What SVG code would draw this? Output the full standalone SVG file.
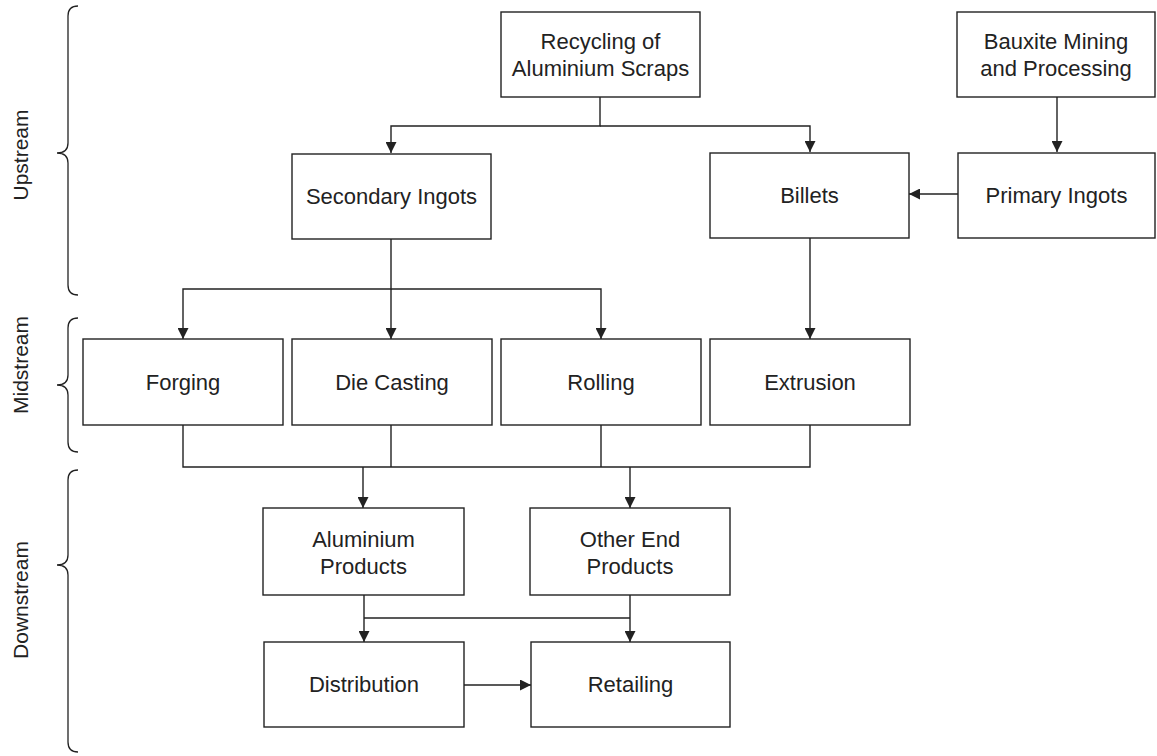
<svg xmlns="http://www.w3.org/2000/svg" width="1157" height="756" viewBox="0 0 1157 756">
<style>
.box{fill:#fff;stroke:#222;stroke-width:1.4}
.t{font-family:"Liberation Sans",Arial,sans-serif;font-size:22px;fill:#222;text-anchor:middle;dominant-baseline:central}
.s{font-size:21px}
.c{fill:none;stroke:#222;stroke-width:1.4}
.br{fill:none;stroke:#222;stroke-width:1.3}
</style>
<defs>
<marker id="ah" markerWidth="11" markerHeight="11" refX="11" refY="5.5" orient="auto" markerUnits="userSpaceOnUse">
<path d="M0,0 L11,5.5 L0,11 z" fill="#222"/>
</marker>
</defs>
<rect width="1157" height="756" fill="#fff"/>
<g id="labels">
<path class="br" d="M78,6 Q68,6 68,16 L68,143 Q68,153 57,153 Q68,153 68,163 L68,285 Q68,295 78,295"/>
<text class="t s" transform="translate(20,155) rotate(-90)">Upstream</text>
<path class="br" d="M78,318 Q68,318 68,328 L68,375 Q68,385 57,385 Q68,385 68,395 L68,442 Q68,452 78,452"/>
<text class="t s" transform="translate(20,365) rotate(-90)">Midstream</text>
<path class="br" d="M78,470 Q68,470 68,480 L68,555 Q68,565 57,565 Q68,565 68,575 L68,742 Q68,752 78,752"/>
<text class="t s" transform="translate(20,600) rotate(-90)">Downstream</text>
</g>
<g id="connectors">
<path class="c" d="M600,97 V126 H391 V153" marker-end="url(#ah)"/>
<path class="c" d="M600,126 H810 V152" marker-end="url(#ah)"/>
<path class="c" d="M1057,97 V152" marker-end="url(#ah)"/>
<path class="c" d="M958,194 H909" marker-end="url(#ah)"/>
<path class="c" d="M391,239 V289 H183 V339" marker-end="url(#ah)"/>
<path class="c" d="M391,289 V339" marker-end="url(#ah)"/>
<path class="c" d="M391,289 H601 V339" marker-end="url(#ah)"/>
<path class="c" d="M810,238 V339" marker-end="url(#ah)"/>
<path class="c" d="M183,425 V467 H810 V425"/>
<path class="c" d="M391,425 V467"/>
<path class="c" d="M601,425 V467"/>
<path class="c" d="M363,467 V508" marker-end="url(#ah)"/>
<path class="c" d="M630,467 V508" marker-end="url(#ah)"/>
<path class="c" d="M364,595 V642" marker-end="url(#ah)"/>
<path class="c" d="M364,618 H630"/>
<path class="c" d="M630,595 V642" marker-end="url(#ah)"/>
<path class="c" d="M464,685 H531" marker-end="url(#ah)"/>
</g>
<g id="recycling"><rect class="box" x="501" y="12" width="199" height="85"/><text class="t" x="600.5" y="41">Recycling of</text><text class="t" x="600.5" y="68">Aluminium Scraps</text></g>
<g id="bauxite"><rect class="box" x="957" y="12" width="198" height="85"/><text class="t" x="1056" y="41">Bauxite Mining</text><text class="t" x="1056" y="68">and Processing</text></g>
<g id="secondary"><rect class="box" x="292" y="154" width="199" height="85"/><text class="t" x="391.5" y="196">Secondary Ingots</text></g>
<g id="billets"><rect class="box" x="710" y="153" width="199" height="85"/><text class="t" x="809.5" y="195">Billets</text></g>
<g id="primary"><rect class="box" x="958" y="153" width="197" height="85"/><text class="t" x="1056.5" y="195">Primary Ingots</text></g>
<g id="forging"><rect class="box" x="83" y="339" width="200" height="86"/><text class="t" x="183" y="382">Forging</text></g>
<g id="diecasting"><rect class="box" x="292" y="339" width="200" height="86"/><text class="t" x="392" y="382">Die Casting</text></g>
<g id="rolling"><rect class="box" x="501" y="339" width="200" height="86"/><text class="t" x="601" y="382">Rolling</text></g>
<g id="extrusion"><rect class="box" x="710" y="339" width="200" height="86"/><text class="t" x="810" y="382">Extrusion</text></g>
<g id="aluminium"><rect class="box" x="263" y="508" width="201" height="87"/><text class="t" x="363.5" y="539">Aluminium</text><text class="t" x="363.5" y="566">Products</text></g>
<g id="otherend"><rect class="box" x="530" y="508" width="200" height="87"/><text class="t" x="630" y="539">Other End</text><text class="t" x="630" y="566">Products</text></g>
<g id="distribution"><rect class="box" x="264" y="642" width="200" height="85"/><text class="t" x="364" y="684">Distribution</text></g>
<g id="retailing"><rect class="box" x="531" y="642" width="199" height="85"/><text class="t" x="630.5" y="684">Retailing</text></g>
</svg>
